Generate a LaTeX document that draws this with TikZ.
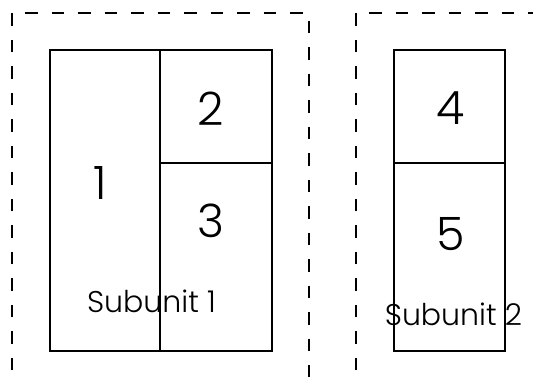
\documentclass[tikz,border=0pt]{standalone}
\usepackage{fontspec}
\setmainfont{Poppins}[UprightFont=* Light]
\usepackage{tikz}
\usetikzlibrary{positioning}
\tikzset{
  unit/.style={draw=black, line width=2pt, dash pattern=on 12.5pt off 14pt},
  cell/.style={draw=black, line width=2pt},
  num/.style={inner sep=0pt, font=\fontsize{46}{46}\selectfont},
  sub/.style={inner sep=0pt, font=\fontsize{30}{30}\selectfont}
}
\begin{document}
\begin{tikzpicture}[x=1pt,y=1pt]
\useasboundingbox (0,0) rectangle (533,377);
\clip (0,0) rectangle (533,377);
% dashed subunit frames
\draw[unit] (12,-20) -- (12,364.4) -- (308.5,364.4) -- (308.5,-20);
\draw[unit] (356,-20) -- (356,364.4) -- (560,364.4);
% subunit 1 cells
\draw[cell] (49.5,26) rectangle (271.6,327);
\draw[cell] (159.5,26) -- (159.5,327);
\draw[cell] (159.5,214) -- (271.6,214);
% subunit 2 cells
\draw[cell] (393.6,26) rectangle (505,327);
\draw[cell] (393.6,214) -- (505,214);
% labels
\node[num] (one) at (100,194) {1};
\node[num] (two) at (211,268.4) {2};
\node[num] (three) at (211,156) {3};
\node[num] (four) at (451,268.4) {4};
\node[num] (five) at (451,143) {5};
\node[sub] (subone) at (151.5,75.3) {Subunit 1};
\node[sub] (subtwo) at (453.5,63) {Subunit 2};
\end{tikzpicture}
\end{document}
